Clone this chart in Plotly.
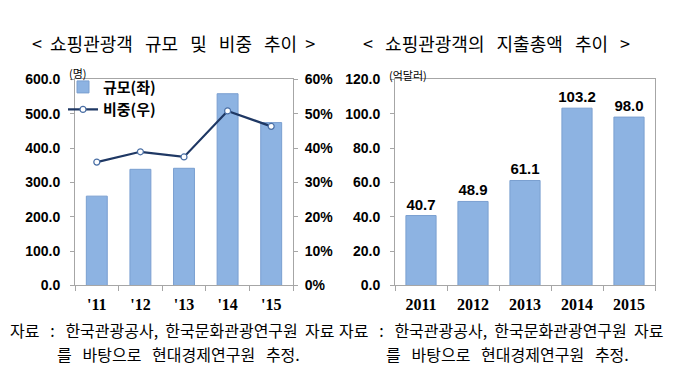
import plotly.graph_objects as go

years_short = ["'11", "'12", "'13", "'14", "'15"]
years_full = ["2011", "2012", "2013", "2014", "2015"]
visitors = [260, 338, 341, 558, 474]          # 규모 (좌)
share = [0.359, 0.389, 0.374, 0.508, 0.463]   # 비중 (우)
spending = [40.7, 48.9, 61.1, 103.2, 98.0]    # 지출총액, 억달러

BAR = "#8DB3E2"
BAR_EDGE = "#7A9FD0"
LINE = "#1F3864"
AX = "#A6A6A6"
KR = "Noto Sans CJK KR"
NUM = "Liberation Sans"
SER = "Liberation Serif"
NB = "\u00a0"

fig = go.Figure()
fig.add_trace(go.Bar(x=years_short, y=visitors, name="규모(좌)", marker=dict(color=BAR, line=dict(color=BAR_EDGE, width=1)),
                     width=0.48, xaxis="x", yaxis="y"))
fig.add_trace(go.Scatter(x=years_short, y=share, name="비중(우)", mode="lines+markers",
                         line=dict(color=LINE, width=2.2),
                         marker=dict(symbol="circle", size=6, color="white", line=dict(color="#4A6FA5", width=1.2)),
                         xaxis="x", yaxis="y2"))
fig.add_trace(go.Bar(x=years_full, y=spending, showlegend=False, marker=dict(color=BAR, line=dict(color=BAR_EDGE, width=1)),
                     width=0.58, text=[f"{v:.1f}" for v in spending], textposition="outside", constraintext="none",
                     textfont=dict(family=NUM, size=15, color="black", weight="bold"), cliponaxis=False,
                     xaxis="x2", yaxis="y3"))

ydom = [1 - 281 / 390, 1 - 66 / 390]
tickfont_num = dict(family=NUM, size=14, color="black", weight="bold")
tickfont_x = dict(family=SER, size=16, color="black", weight="bold")

common_x = dict(type="category", showline=True, linecolor=AX, linewidth=1, mirror=True, ticks="outside",
                tickson="boundaries", ticklen=5, tickcolor=AX, tickfont=tickfont_x, showgrid=False,
                ticklabelstandoff=4)
common_y = dict(showline=True, linecolor=AX, ticks="outside", ticklen=4, tickcolor=AX, tickfont=tickfont_num,
                showgrid=False, zeroline=False)
fig.update_layout(
    width=680, height=390, margin=dict(l=0, r=0, t=0, b=0),
    paper_bgcolor="white", plot_bgcolor="white", bargap=0.5,
    xaxis=dict(domain=[67 / 680, 285 / 680], anchor="y", **common_x),
    yaxis=dict(domain=ydom, range=[0, 600], dtick=100, tickformat=".1f", mirror=True, ticklabelstandoff=7, **common_y),
    yaxis2=dict(overlaying="y", side="right", range=[0, 0.6], dtick=0.1, tickformat=".0%", ticklabelstandoff=4,
                **common_y),
    xaxis2=dict(domain=[387 / 680, 647 / 680], anchor="y3", **common_x),
    yaxis3=dict(domain=ydom, anchor="x2", range=[0, 120], dtick=20, tickformat=".1f", mirror=True,
                ticklabelstandoff=7, **common_y),
    legend=dict(x=55 / 680, y=1 - 57 / 390, xanchor="left", yanchor="top", bgcolor="rgba(0,0,0,0)",
                font=dict(family=KR, size=15, color="black", weight="bold"), tracegroupgap=0, itemwidth=30),
    showlegend=True,
)

def ann(text, x, y, size, xanchor="center", family=KR, color="black"):
    fig.add_annotation(text=text, x=x / 680, y=1 - y / 390, xref="paper", yref="paper", showarrow=False,
                       xanchor=xanchor, yanchor="middle", font=dict(family=family, size=size, color=color))

def spaced(words, extras):
    out = words[0]
    for w, e in zip(words[1:], extras):
        out += " " + NB * e + w
    return out

ann(spaced(["<", "쇼핑관광객", "규모", "및", "비중", "추이", ">"], [1, 2, 2, 2, 2, 1]), 165, 28, 18)
ann(spaced(["<", "쇼핑관광객의", "지출총액", "추이", ">"], [2, 2, 2, 2]), 488, 28, 18)
ann("(명)", 70, 59, 11)
ann("(억달러)", 400, 62, 11)
line1 = spaced(["자료", ":", "한국관광공사,", "한국문화관광연구원", "자료"], [2, 2, 1, 1])
line2 = spaced(["를", "바탕으로", "현대경제연구원", "추정."], [2, 2, 2])
ann(line1, 0, 327, 16, xanchor="left")
ann(line2, 47, 352, 16, xanchor="left")
ann(line1, 329, 327, 16, xanchor="left")
ann(line2, 376, 352, 16, xanchor="left")

fig.write_html("out.html")
